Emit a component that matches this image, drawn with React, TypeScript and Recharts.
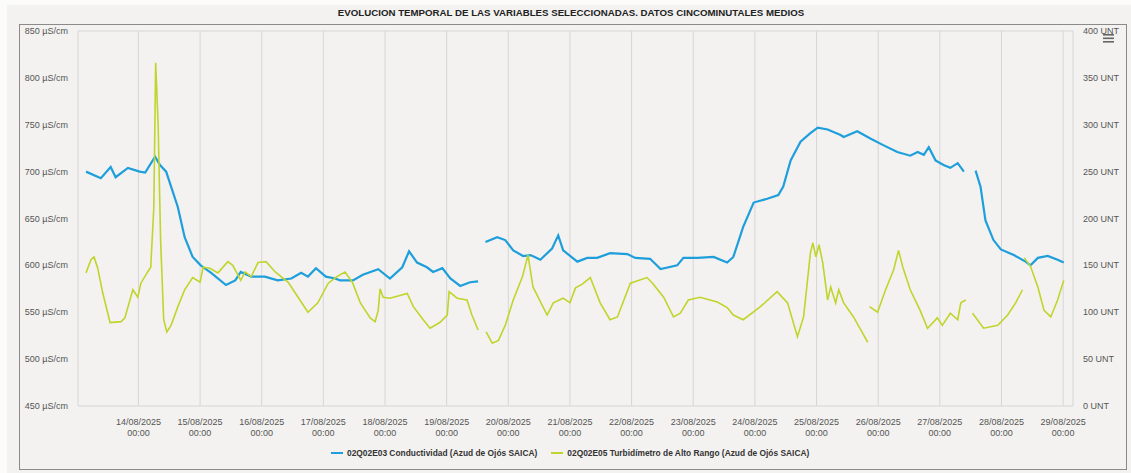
import React from "react";
import { LineChart, Line, XAxis, YAxis, CartesianGrid } from "recharts";

// x = days since 13/08/2025 00:00, value = µS/cm (null = gap in the record)
const CONDUCTIVIDAD: [number, number | null][] = [
  [0.15, 700], [0.39, 693], [0.55, 705], [0.63, 694], [0.83, 704], [1.02, 700],
  [1.11, 699], [1.27, 716], [1.35, 707], [1.45, 700], [1.53, 684], [1.64, 662],
  [1.75, 630], [1.88, 609], [2.01, 600], [2.18, 592], [2.42, 579], [2.57, 584],
  [2.66, 593], [2.83, 588], [3.05, 588], [3.26, 584], [3.48, 586], [3.64, 592],
  [3.75, 588], [3.88, 597], [4.04, 588], [4.19, 586], [4.27, 584], [4.48, 584],
  [4.64, 590], [4.89, 596], [5.08, 586], [5.28, 598], [5.39, 615], [5.52, 603],
  [5.68, 598], [5.78, 593], [5.93, 597], [6.06, 586], [6.22, 578], [6.38, 582],
  [6.51, 583], [6.57, null],
  [6.63, 625], [6.82, 630], [6.95, 627], [7.08, 616], [7.24, 610], [7.36, 611],
  [7.52, 606], [7.71, 618], [7.81, 632], [7.89, 616], [8.12, 604], [8.28, 608],
  [8.44, 608], [8.65, 613], [8.93, 612], [9.06, 608], [9.3, 607], [9.47, 596],
  [9.74, 600], [9.84, 608], [10.07, 608], [10.33, 609], [10.55, 603], [10.65, 609],
  [10.81, 641], [10.98, 667], [11.2, 671], [11.38, 675], [11.46, 684], [11.58, 712],
  [11.74, 732], [11.9, 741], [12.02, 747], [12.18, 745], [12.39, 739], [12.44, 737],
  [12.66, 743], [12.88, 735], [13.09, 728], [13.31, 721], [13.52, 717], [13.64, 721],
  [13.74, 718], [13.82, 726], [13.93, 712], [14.06, 707], [14.17, 704], [14.29, 709],
  [14.39, 700], [14.5, null],
  [14.58, 701], [14.66, 684], [14.74, 648], [14.87, 627], [14.99, 617], [15.2, 611],
  [15.39, 604], [15.47, 600], [15.59, 608], [15.75, 610], [15.91, 606], [16.01, 603],
];

// x = days since 13/08/2025 00:00, value = UNT
const TURBIDIMETRO: [number, number | null][] = [
  [0.15, 142], [0.23, 156], [0.28, 159], [0.34, 147], [0.42, 121], [0.54, 89],
  [0.72, 90], [0.78, 94], [0.91, 124], [0.99, 116], [1.04, 131], [1.15, 143],
  [1.2, 148], [1.25, 212], [1.28, 366], [1.32, 300], [1.36, 177], [1.41, 92],
  [1.46, 79], [1.53, 86], [1.64, 106], [1.75, 124], [1.88, 137], [2.0, 132],
  [2.05, 148], [2.16, 147], [2.29, 142], [2.45, 154], [2.53, 150], [2.66, 134],
  [2.73, 143], [2.83, 138], [2.94, 153], [3.07, 154], [3.22, 143], [3.43, 132],
  [3.59, 116], [3.75, 100], [3.91, 110], [4.08, 131], [4.22, 138], [4.35, 143],
  [4.47, 132], [4.6, 110], [4.76, 94], [4.84, 90], [4.89, 102], [4.92, 125],
  [4.97, 116], [5.08, 115], [5.36, 120], [5.46, 106], [5.62, 92], [5.73, 83],
  [5.89, 89], [6.01, 97], [6.04, 122], [6.17, 115], [6.33, 113], [6.41, 97],
  [6.51, 81], [6.58, null],
  [6.64, 79], [6.74, 67], [6.84, 70], [6.95, 86], [7.08, 113], [7.23, 138],
  [7.32, 161], [7.4, 127], [7.63, 97], [7.73, 110], [7.89, 115], [8.0, 110],
  [8.09, 126], [8.2, 130], [8.33, 137], [8.49, 110], [8.65, 92], [8.77, 95],
  [8.98, 131], [9.25, 137], [9.34, 131], [9.52, 116], [9.68, 95], [9.79, 99],
  [9.92, 113], [10.11, 116], [10.39, 111], [10.55, 105], [10.65, 97], [10.81, 92],
  [11.09, 106], [11.36, 122], [11.53, 110], [11.69, 74], [11.79, 95], [11.9, 163],
  [11.94, 174], [11.99, 159], [12.04, 172], [12.1, 153], [12.18, 113], [12.23, 127],
  [12.31, 110], [12.36, 124], [12.44, 110], [12.6, 95], [12.72, 81], [12.83, 68],
  [12.845, null],
  [12.86, 106], [12.99, 100], [13.12, 124], [13.25, 145], [13.33, 166], [13.4, 148],
  [13.52, 124], [13.68, 102], [13.8, 83], [13.96, 94], [14.04, 86], [14.17, 99],
  [14.29, 92], [14.34, 110], [14.42, 113], [14.46, null],
  [14.53, 99], [14.71, 83], [14.94, 86], [15.1, 97], [15.23, 110], [15.34, 124],
  [15.355, null],
  [15.37, 158], [15.47, 149], [15.59, 127], [15.69, 102], [15.8, 95], [15.91, 113],
  [16.01, 134],
];

const DAY_TICKS = [1, 2, 3, 4, 5, 6, 7, 8, 9, 10, 11, 12, 13, 14, 15, 16];
const DAY_LABELS = [
  "14/08/2025", "15/08/2025", "16/08/2025", "17/08/2025", "18/08/2025", "19/08/2025",
  "20/08/2025", "21/08/2025", "22/08/2025", "23/08/2025", "24/08/2025", "25/08/2025",
  "26/08/2025", "27/08/2025", "28/08/2025", "29/08/2025",
];
const COND_TICKS = [450, 500, 550, 600, 650, 700, 750, 800, 850];
const TURB_TICKS = [0, 50, 100, 150, 200, 250, 300, 350, 400];

const TITLE = "EVOLUCION TEMPORAL DE LAS VARIABLES SELECCIONADAS. DATOS CINCOMINUTALES MEDIOS";
const COND_NAME = "02Q02E03 Conductividad (Azud de Ojós SAICA)";
const TURB_NAME = "02Q02E05 Turbidímetro de Alto Rango (Azud de Ojós SAICA)";

const BLUE = "#1e9fdc";
const LIME = "#bfd52c";
const FONT = "'Liberation Sans', Arial, sans-serif";
const LABEL = "#555";

const condData = CONDUCTIVIDAD.map(([x, v]) => ({ x, v }));
const turbData = TURBIDIMETRO.map(([x, v]) => ({ x, v }));

const DateTick = (props: any) => {
  const { x, y, payload } = props;
  const i = DAY_TICKS.indexOf(payload.value);
  return (
    <g>
      <text x={x} y={y + 11} textAnchor="middle" fontSize={9} fill={LABEL} fontFamily={FONT}>
        {DAY_LABELS[i]}
      </text>
      <text x={x} y={y + 22} textAnchor="middle" fontSize={9} fill={LABEL} fontFamily={FONT}>
        00:00
      </text>
    </g>
  );
};

// plain one-line tick, so the unit never wraps under the number
const UnitTick = (unit: string) => (props: any) => {
  const { x, y, payload, textAnchor } = props;
  return (
    <text x={x} y={y + 3} textAnchor={textAnchor} fontSize={9} fill={LABEL} fontFamily={FONT}>
      {`${payload.value} ${unit}`}
    </text>
  );
};
const CondTick = UnitTick("µS/cm");
const TurbTick = UnitTick("UNT");

function LegendItem({ color, label, gap }: { color: string; label: string; gap: number }) {
  return (
    <span style={{ display: "inline-flex", alignItems: "center", marginRight: gap }}>
      <span style={{ width: 12, height: 2, background: color, display: "inline-block", marginRight: 4 }} />
      <span>{label}</span>
    </span>
  );
}

export default function App() {
  return (
    <div style={{ position: "absolute", left: 0, top: 0, width: 1131, height: 473, background: "#fbfbfa", overflow: "hidden" }}>
      <div style={{ position: "absolute", left: 7, top: 5, width: 1124, height: 468, background: "#f3f2f0" }} />
      <div
        style={{
          position: "absolute", left: 0, top: 7, width: 1142, textAlign: "center",
          fontFamily: FONT, fontWeight: 700, fontSize: 9.7, color: "#222",
        }}
      >
        {TITLE}
      </div>
      <div
        style={{
          position: "absolute", left: 19, top: 24, width: 1108, height: 446,
          border: "1px solid #8a8a8a", boxSizing: "border-box",
        }}
      />
      <div style={{ position: "absolute", left: 0, top: 0 }}>
        <LineChart width={1131} height={473} margin={{ top: 31, right: 8, left: 8, bottom: 37 }}>
          <CartesianGrid stroke="#d6d6d6" strokeWidth={1} />
          <XAxis
            dataKey="x"
            type="number"
            domain={[0.02, 16.16]}
            ticks={DAY_TICKS}
            interval={0}
            allowDataOverflow
            axisLine={false}
            tickLine={false}
            height={30}
            tick={<DateTick />}
          />
          <YAxis
            yAxisId="cond"
            orientation="left"
            domain={[450, 850]}
            ticks={COND_TICKS}
            interval={0}
            width={70}
            axisLine={false}
            tickLine={false}
            tickSize={0}
            tickMargin={10}
            tick={CondTick}
          />
          <YAxis
            yAxisId="turb"
            orientation="right"
            domain={[0, 400]}
            ticks={TURB_TICKS}
            interval={0}
            width={50}
            axisLine={false}
            tickLine={false}
            tickSize={0}
            tickMargin={10}
            tick={TurbTick}
          />
          <Line
            yAxisId="cond"
            data={condData}
            dataKey="v"
            type="linear"
            stroke={BLUE}
            strokeWidth={2.2}
            dot={false}
            connectNulls={false}
            isAnimationActive={false}
          />
          <Line
            yAxisId="turb"
            data={turbData}
            dataKey="v"
            type="linear"
            stroke={LIME}
            strokeWidth={1.6}
            dot={false}
            connectNulls={false}
            isAnimationActive={false}
          />
        </LineChart>
      </div>
      <svg style={{ position: "absolute", left: 1102, top: 33 }} width={14} height={12}>
        <rect x={1} y={1} width={11} height={1.6} fill="#666" />
        <rect x={1} y={4.5} width={11} height={1.6} fill="#666" />
        <rect x={1} y={8} width={11} height={1.6} fill="#666" />
      </svg>
      <div
        style={{
          position: "absolute", left: 331, top: 446, whiteSpace: "nowrap",
          fontFamily: FONT, fontWeight: 700, fontSize: 8.4, color: "#333",
        }}
      >
        <LegendItem color={BLUE} label={COND_NAME} gap={14} />
        <LegendItem color={LIME} label={TURB_NAME} gap={0} />
      </div>
    </div>
  );
}
